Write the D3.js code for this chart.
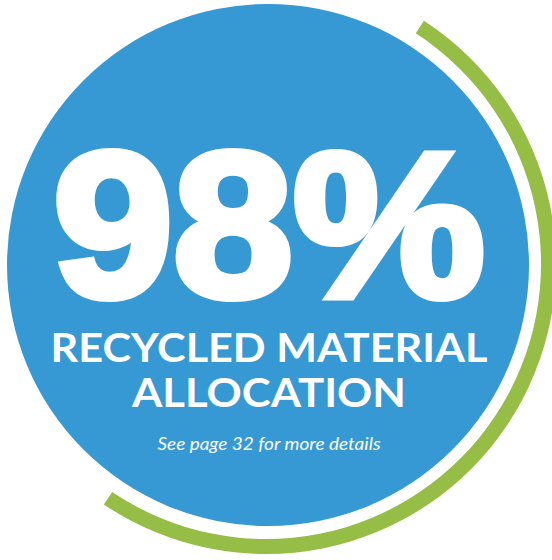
<!DOCTYPE html>
<html>
<head>
<meta charset="utf-8">
<script src="https://cdn.jsdelivr.net/npm/d3@7"></script>
<style>
  html, body { margin: 0; padding: 0; background: #ffffff; }
  svg { display: block; }
</style>
</head>
<body>
<div id="chart"></div>
<script>
// ---- data ----
const headlineValue = [98];
const headlineLabels = ["RECYCLED MATERIAL", "ALLOCATION"];
const footnote = ["See page 32 for more details"];

// ---- layout ----
const W = 552, H = 560;
const cx = 268, cy = 265, R = 261;
const blue = "#3799D3", green = "#96BD45";

const svg = d3.select("#chart").append("svg")
  .attr("width", W).attr("height", H)
  .attr("viewBox", `0 0 ${W} ${H}`);

// green outer arc
const deg = d3.scaleLinear().domain([0, 360]).range([0, 2 * Math.PI]);
const arcGen = d3.arc()
  .innerRadius(275)
  .outerRadius(290)
  .startAngle(deg(33))
  .endAngle(deg(214));
svg.append("path")
  .attr("transform", `translate(${cx - 2},${cy - 1})`)
  .attr("d", arcGen())
  .attr("fill", green);

// blue disc
svg.append("circle")
  .attr("cx", cx).attr("cy", cy).attr("r", R)
  .attr("fill", blue);

// big number
svg.append("text")
  .attr("x", 269).attr("y", 296)
  .attr("text-anchor", "middle")
  .attr("font-family", "'Liberation Sans', Arial, sans-serif")
  .attr("font-weight", 700)
  .attr("font-size", 206)
  .attr("fill", "#fff")
  .attr("stroke", "#fff")
  .attr("stroke-width", 8)
  .attr("stroke-linejoin", "miter")
  .attr("textLength", 432)
  .attr("lengthAdjust", "spacingAndGlyphs")
  .text(headlineValue[0] + "%");

// labels
const labelY = [362, 407];
const labelLen = [437, 274];
svg.selectAll("text.lbl").data(headlineLabels).join("text")
  .attr("class", "lbl")
  .attr("x", 269)
  .attr("y", (d, i) => labelY[i])
  .attr("text-anchor", "middle")
  .attr("font-family", "Lato, 'Open Sans', sans-serif")
  .attr("font-weight", 700)
  .attr("font-size", 41)
  .attr("fill", "#fff")
  .attr("textLength", (d, i) => labelLen[i])
  .attr("lengthAdjust", "spacingAndGlyphs")
  .text(d => d);

svg.append("text")
  .attr("x", 269).attr("y", 450)
  .attr("text-anchor", "middle")
  .attr("font-family", "Lato, 'Open Sans', sans-serif")
  .attr("font-style", "italic")
  .attr("font-size", 17)
  .attr("fill", "#fff")
  .attr("textLength", 223)
  .attr("lengthAdjust", "spacingAndGlyphs")
  .text(footnote[0]);
</script>
</body>
</html>
